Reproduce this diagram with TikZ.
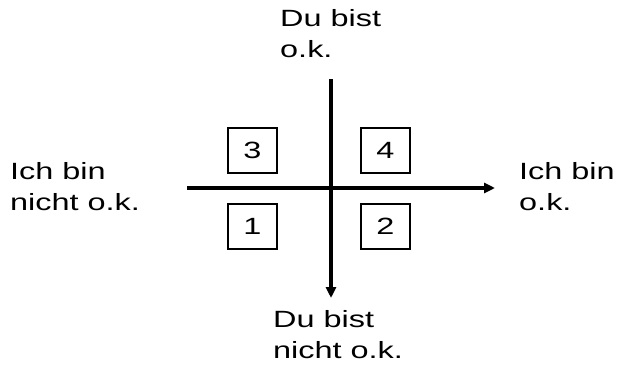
\documentclass[tikz,border=0pt]{standalone}
\usepackage{fontspec}
\setmainfont{Liberation Sans}[FakeStretch=1.38]
\usetikzlibrary{arrows.meta}
\begin{document}
\begin{tikzpicture}[x=1pt,y=-1pt,
  lbl/.style={font=\fontsize{23.5}{31}\selectfont, align=left, inner sep=0pt, anchor=base west},
  numbox/.style={draw, line width=1.2pt, minimum width=49pt, minimum height=45pt, inner sep=0pt, font=\fontsize{23.5}{28}\selectfont},
  axis/.style={line width=3.2pt, -{Triangle[length=11pt,width=10pt]}}]
\useasboundingbox (0,0) rectangle (618,369);
\coordinate (vtop) at (331,79);
\coordinate (vbot) at (331,298);
\coordinate (hl) at (187,188);
\coordinate (hr) at (495,188);
\draw[axis] (vtop) -- (vbot);
\draw[axis] (hl) -- (hr);
\node[numbox] (b3) at (252.5,150.5) {3};
\node[numbox] (b4) at (385.5,150.5) {4};
\node[numbox] (b1) at (252.5,226.5) {1};
\node[numbox] (b2) at (385.5,226.5) {2};
\node[lbl] (top) at (280,58) {Du bist\\o.k.};
\node[lbl] (left) at (10,210) {Ich bin\\nicht o.k.};
\node[lbl] (right) at (519,210) {Ich bin\\o.k.};
\node[lbl] (bottom) at (273,358) {Du bist\\nicht o.k.};
\end{tikzpicture}
\end{document}
